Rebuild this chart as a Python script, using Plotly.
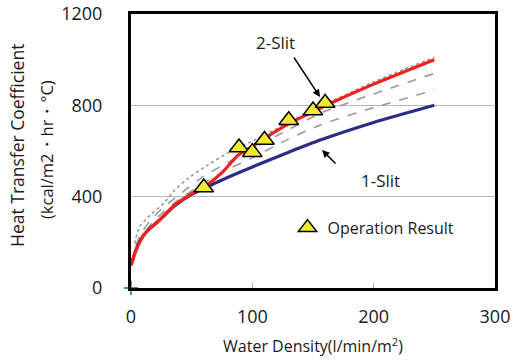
import plotly.graph_objects as go

# ---- data ----
red_x = [0, 1.5, 3, 5, 7, 10, 15, 22, 36, 53, 60, 75, 88, 100, 112, 131, 150, 164, 200, 250]
red_y = [100, 125, 150, 178, 200, 228, 258, 290, 363, 422, 440, 505, 580, 620, 662, 722, 772, 808, 893, 1000]

blue_x = [0, 1.5, 3, 5, 7, 10, 15, 22, 36, 50, 60, 80, 100, 131, 156, 200, 250]
blue_y = [100, 125, 150, 178, 200, 228, 258, 290, 360, 410, 436, 485, 530, 597, 648, 725, 800]

g1_x = [3, 7, 16, 27, 36, 47, 61, 84, 102, 125, 150, 175, 200, 225, 250]
g1_y = [195, 268, 320, 371, 429, 480, 531, 604, 648, 712, 782, 842, 903, 958, 1010]

g2_x = [4, 8, 15, 25, 40, 60, 80, 100, 125, 156, 200, 250]
g2_y = [185, 235, 290, 345, 410, 490, 550, 610, 680, 765, 850, 940]

g3_x = [5, 10, 20, 35, 60, 80, 100, 125, 156, 200, 250]
g3_y = [185, 235, 300, 370, 460, 520, 570, 640, 714, 790, 867]

op_x = [60, 89, 100, 110, 130, 150, 160]
op_y = [440, 615, 595, 648, 735, 777, 810]

x_ticks = [0, 100, 200, 300]
y_ticks = [0, 400, 800, 1200]

FONT = "Open Sans"
TXT = "#1a1a1a"

fig = go.Figure()

for gx, gy, dash in [(g1_x, g1_y, "dot"), (g2_x, g2_y, "dash"), (g3_x, g3_y, "dash")]:
    fig.add_trace(go.Scatter(x=gx, y=gy, mode="lines", showlegend=False,
                             line=dict(color="#9a9a9a", width=1.6, dash=dash, shape="spline", smoothing=0.6),
                             hoverinfo="skip"))

fig.add_trace(go.Scatter(x=blue_x, y=blue_y, mode="lines", showlegend=False,
                         line=dict(color="#2b2d87", width=3.2, shape="spline", smoothing=0.6)))
fig.add_trace(go.Scatter(x=red_x, y=red_y, mode="lines", showlegend=False,
                         line=dict(color="#f0221e", width=3.2, shape="spline", smoothing=0.6)))

fig.add_trace(go.Scatter(x=op_x, y=op_y, mode="markers", name="Operation Result",
                         marker=dict(symbol="triangle-up", size=17, color="#f2ea2c",
                                     line=dict(color="black", width=1.5))))

fig.add_trace(go.Scatter(x=[0], y=[0], mode="markers", showlegend=False, cliponaxis=False,
                         marker=dict(symbol="cross-thin", size=10, line=dict(color="#2a9a9a", width=1.8))))

fig.update_layout(
    width=513, height=362,
    margin=dict(l=131, r=18, t=14, b=74),
    paper_bgcolor="white", plot_bgcolor="white",
    font=dict(family=FONT, size=18, color=TXT),
    showlegend=True,
    legend=dict(x=0.43, y=0.22, xanchor="left", yanchor="middle",
                bgcolor="rgba(0,0,0,0)", font=dict(size=16, family=FONT, color=TXT)),
    xaxis=dict(range=[0, 300], tickvals=x_ticks, showgrid=False, zeroline=False, automargin=False,
               showline=True, linecolor="black", linewidth=3, mirror=True,
               ticks="inside", ticklen=5, tickcolor="#aaaaaa", tickwidth=1,
               tickfont=dict(size=18), ticklabelstandoff=10,
               title=dict(text="Water Density(l/min/m<sup>2</sup>)", font=dict(size=16), standoff=15)),
    yaxis=dict(range=[0, 1200], tickvals=y_ticks, showgrid=True, gridcolor="#b8b8b8", gridwidth=1,
               zeroline=False, showline=True, linecolor="black", linewidth=3, mirror=True, automargin=False,
               ticks="", tickfont=dict(size=18), ticklabelstandoff=22),
)

px_per_x = 364 / 300
px_per_y = 274 / 1200


def dx(px):
    return (px - 131) / px_per_x


def dy(py):
    return (288 - py) / px_per_y


def paper_x(px):
    return (px - 131) / 364


def paper_y(py):
    return (288 - py) / 274


fig.add_annotation(text="Heat Transfer Coefficient", xref="paper", yref="paper",
                   x=paper_x(17), y=paper_y(146), xanchor="center", yanchor="middle",
                   textangle=-90, showarrow=False, font=dict(size=17.5, family=FONT, color=TXT))
fig.add_annotation(text="(kcal/m2・hr・°C)", xref="paper", yref="paper",
                   x=paper_x(46), y=paper_y(150), xanchor="center", yanchor="middle",
                   textangle=-90, showarrow=False, font=dict(size=16.5, family=FONT, color=TXT))
fig.add_annotation(text="2-Slit", x=dx(275), y=dy(42), xref="x", yref="y", showarrow=False,
                   font=dict(size=17, family=FONT, color=TXT))
fig.add_annotation(text="1-Slit", x=dx(380), y=dy(180), xref="x", yref="y", showarrow=False,
                   font=dict(size=17, family=FONT, color=TXT))
fig.add_annotation(x=dx(320), y=dy(97), ax=dx(293), ay=dy(56), xref="x", yref="y", axref="x", ayref="y",
                   text="", showarrow=True, arrowhead=2, arrowsize=1, arrowwidth=1.5, arrowcolor="black")
fig.add_annotation(x=dx(322), y=dy(150), ax=dx(337), ay=dy(165), xref="x", yref="y", axref="x", ayref="y",
                   text="", showarrow=True, arrowhead=2, arrowsize=1, arrowwidth=1.5, arrowcolor="black")

fig.write_html("out.html", post_script="document.body.style.margin='0';",
               config={"displayModeBar": False})
